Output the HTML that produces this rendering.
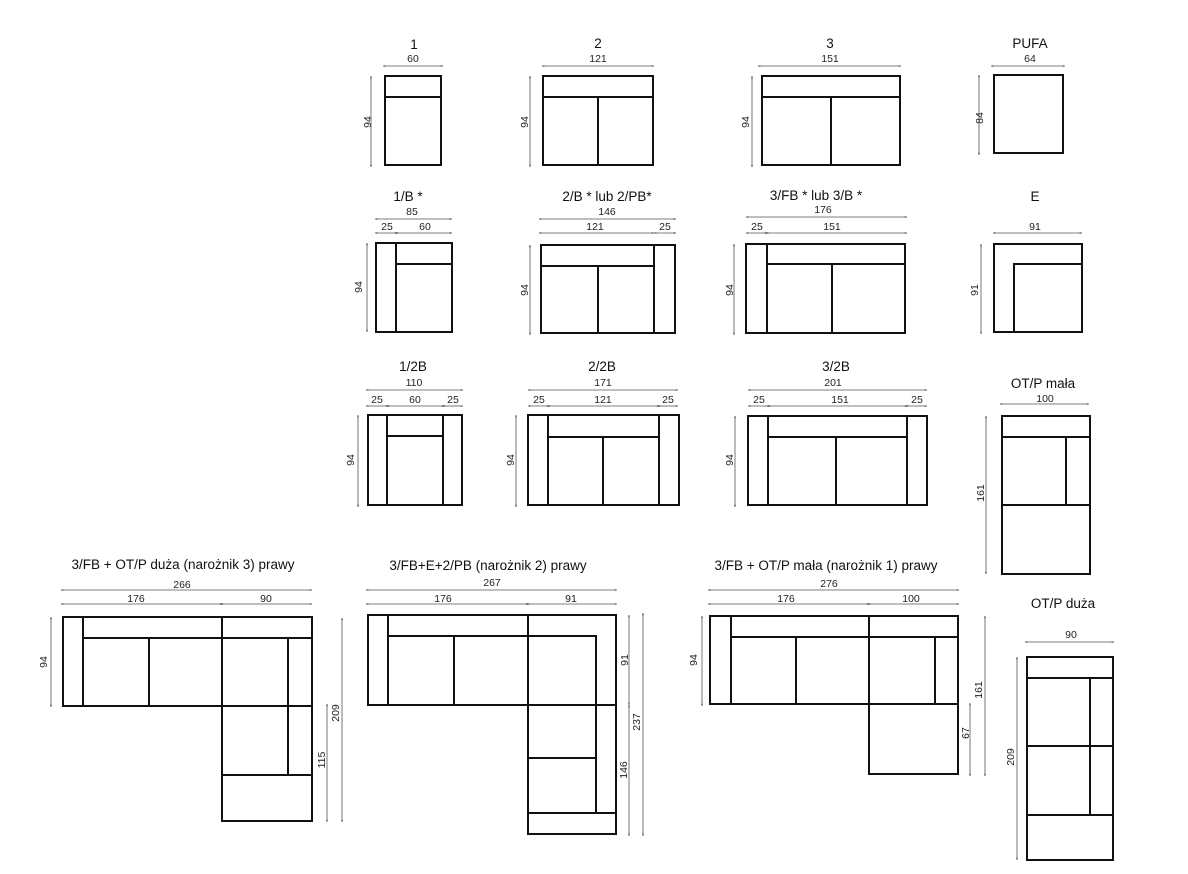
<!DOCTYPE html>
<html><head><meta charset="utf-8"><style>
html,body{margin:0;padding:0;background:#fff;}
svg{display:block}
.o{stroke:#111;stroke-width:2;fill:none}
.d{stroke:#555;stroke-width:0.8;fill:none;marker-start:url(#a);marker-end:url(#a)}
.t{font-family:"Liberation Sans",sans-serif;font-size:13.5px;fill:#111;text-anchor:middle}
.n{font-family:"Liberation Sans",sans-serif;font-size:10.5px;fill:#222;text-anchor:middle}
</style></head><body>
<svg width="1188" height="874" viewBox="0 0 1188 874" xmlns="http://www.w3.org/2000/svg">
<defs><marker id="a" viewBox="0 0 10 10" refX="5" refY="5" markerWidth="4" markerHeight="4" orient="auto-start-reverse"><path d="M0,5 L10,2 L10,8 Z" fill="#444"/></marker></defs>

<!-- Row 1 -->
<text class="t" x="414" y="49">1</text><text class="n" x="413" y="62">60</text>
<line class="d" x1="385" y1="66" x2="441" y2="66"/>
<rect class="o" x="385" y="76" width="56" height="89"/><line class="o" x1="385" y1="97" x2="441" y2="97"/>
<line class="d" x1="371" y1="78" x2="371" y2="165"/><text class="n" transform="translate(371,122) rotate(-90)">94</text>

<text class="t" x="598" y="48">2</text><text class="n" x="598" y="62">121</text>
<line class="d" x1="544" y1="66" x2="652" y2="66"/>
<rect class="o" x="543" y="76" width="110" height="89"/><line class="o" x1="543" y1="97" x2="653" y2="97"/><line class="o" x1="598" y1="97" x2="598" y2="165"/>
<line class="d" x1="530" y1="78" x2="530" y2="165"/><text class="n" transform="translate(528,122) rotate(-90)">94</text>

<text class="t" x="830" y="48">3</text><text class="n" x="830" y="62">151</text>
<line class="d" x1="760" y1="66" x2="899" y2="66"/>
<rect class="o" x="762" y="76" width="138" height="89"/><line class="o" x1="762" y1="97" x2="900" y2="97"/><line class="o" x1="831" y1="97" x2="831" y2="165"/>
<line class="d" x1="752" y1="78" x2="752" y2="165"/><text class="n" transform="translate(749,122) rotate(-90)">94</text>

<text class="t" x="1030" y="48">PUFA</text><text class="n" x="1030" y="62">64</text>
<line class="d" x1="993" y1="66" x2="1063" y2="66"/>
<rect class="o" x="994" y="75" width="69" height="78"/>
<line class="d" x1="979" y1="77" x2="979" y2="153"/><text class="n" transform="translate(983,118) rotate(-90)">84</text>

<!-- Row 2 -->
<text class="t" x="408" y="201">1/B *</text><text class="n" x="412" y="215">85</text>
<line class="d" x1="377" y1="219" x2="450" y2="219"/>
<text class="n" x="387" y="230">25</text><text class="n" x="425" y="230">60</text>
<line class="d" x1="377" y1="233" x2="395" y2="233"/><line class="d" x1="398" y1="233" x2="450" y2="233"/>
<rect class="o" x="376" y="243" width="76" height="89"/><line class="o" x1="396" y1="243" x2="396" y2="332"/><line class="o" x1="396" y1="264" x2="452" y2="264"/>
<line class="d" x1="367" y1="245" x2="367" y2="330"/><text class="n" transform="translate(362,287) rotate(-90)">94</text>

<text class="t" x="607" y="201">2/B * lub 2/PB*</text><text class="n" x="607" y="215">146</text>
<line class="d" x1="541" y1="219" x2="674" y2="219"/>
<text class="n" x="595" y="230">121</text><text class="n" x="665" y="230">25</text>
<line class="d" x1="541" y1="233" x2="652" y2="233"/><line class="d" x1="656" y1="233" x2="674" y2="233"/>
<rect class="o" x="541" y="245" width="134" height="88"/><line class="o" x1="654" y1="245" x2="654" y2="333"/><line class="o" x1="541" y1="266" x2="654" y2="266"/><line class="o" x1="598" y1="266" x2="598" y2="333"/>
<line class="d" x1="530" y1="247" x2="530" y2="333"/><text class="n" transform="translate(528,290) rotate(-90)">94</text>

<text class="t" x="816" y="200">3/FB * lub 3/B *</text><text class="n" x="823" y="213">176</text>
<line class="d" x1="748" y1="217" x2="905" y2="217"/>
<text class="n" x="757" y="230">25</text><text class="n" x="832" y="230">151</text>
<line class="d" x1="748" y1="233" x2="765" y2="233"/><line class="d" x1="768" y1="233" x2="905" y2="233"/>
<rect class="o" x="746" y="244" width="159" height="89"/><line class="o" x1="767" y1="244" x2="767" y2="333"/><line class="o" x1="767" y1="264" x2="905" y2="264"/><line class="o" x1="832" y1="264" x2="832" y2="333"/>
<line class="d" x1="734" y1="246" x2="734" y2="333"/><text class="n" transform="translate(733,290) rotate(-90)">94</text>

<text class="t" x="1035" y="201">E</text><text class="n" x="1035" y="230">91</text>
<line class="d" x1="995" y1="233" x2="1080" y2="233"/>
<rect class="o" x="994" y="244" width="88" height="88"/><polyline class="o" points="1014,332 1014,264 1082,264"/>
<line class="d" x1="981" y1="246" x2="981" y2="332"/><text class="n" transform="translate(978,290) rotate(-90)">91</text>

<!-- Row 3 -->
<text class="t" x="413" y="371">1/2B</text><text class="n" x="414" y="386">110</text>
<line class="d" x1="368" y1="390" x2="461" y2="390"/>
<text class="n" x="377" y="403">25</text><text class="n" x="415" y="403">60</text><text class="n" x="453" y="403">25</text>
<line class="d" x1="368" y1="406" x2="386" y2="406"/><line class="d" x1="389" y1="406" x2="442" y2="406"/><line class="d" x1="445" y1="406" x2="461" y2="406"/>
<rect class="o" x="368" y="415" width="94" height="90"/><line class="o" x1="387" y1="415" x2="387" y2="505"/><line class="o" x1="443" y1="415" x2="443" y2="505"/><line class="o" x1="387" y1="436" x2="443" y2="436"/>
<line class="d" x1="358" y1="417" x2="358" y2="505"/><text class="n" transform="translate(354,460) rotate(-90)">94</text>

<text class="t" x="602" y="371">2/2B</text><text class="n" x="603" y="386">171</text>
<line class="d" x1="530" y1="390" x2="676" y2="390"/>
<text class="n" x="539" y="403">25</text><text class="n" x="603" y="403">121</text><text class="n" x="668" y="403">25</text>
<line class="d" x1="530" y1="406" x2="547" y2="406"/><line class="d" x1="550" y1="406" x2="657" y2="406"/><line class="d" x1="660" y1="406" x2="676" y2="406"/>
<rect class="o" x="528" y="415" width="151" height="90"/><line class="o" x1="548" y1="415" x2="548" y2="505"/><line class="o" x1="659" y1="415" x2="659" y2="505"/><line class="o" x1="548" y1="437" x2="659" y2="437"/><line class="o" x1="603" y1="437" x2="603" y2="505"/>
<line class="d" x1="516" y1="417" x2="516" y2="505"/><text class="n" transform="translate(514,460) rotate(-90)">94</text>

<text class="t" x="836" y="371">3/2B</text><text class="n" x="833" y="386">201</text>
<line class="d" x1="750" y1="390" x2="925" y2="390"/>
<text class="n" x="759" y="403">25</text><text class="n" x="840" y="403">151</text><text class="n" x="917" y="403">25</text>
<line class="d" x1="750" y1="406" x2="767" y2="406"/><line class="d" x1="770" y1="406" x2="905" y2="406"/><line class="d" x1="908" y1="406" x2="925" y2="406"/>
<rect class="o" x="748" y="416" width="179" height="89"/><line class="o" x1="768" y1="416" x2="768" y2="505"/><line class="o" x1="907" y1="416" x2="907" y2="505"/><line class="o" x1="768" y1="437" x2="907" y2="437"/><line class="o" x1="836" y1="437" x2="836" y2="505"/>
<line class="d" x1="735" y1="418" x2="735" y2="505"/><text class="n" transform="translate(733,460) rotate(-90)">94</text>

<text class="t" x="1043" y="388">OT/P mała</text><text class="n" x="1045" y="402">100</text>
<line class="d" x1="1002" y1="404" x2="1087" y2="404"/>
<rect class="o" x="1002" y="416" width="88" height="158"/><line class="o" x1="1002" y1="437" x2="1090" y2="437"/><line class="o" x1="1066" y1="437" x2="1066" y2="505"/><line class="o" x1="1002" y1="505" x2="1090" y2="505"/>
<line class="d" x1="986" y1="418" x2="986" y2="572"/><text class="n" transform="translate(984,493) rotate(-90)">161</text>

<!-- Corner 3 -->
<text class="t" x="183" y="569">3/FB + OT/P duża (narożnik 3) prawy</text>
<text class="n" x="182" y="588">266</text>
<line class="d" x1="63" y1="590" x2="310" y2="590"/>
<text class="n" x="136" y="602">176</text><text class="n" x="266" y="602">90</text>
<line class="d" x1="63" y1="604" x2="220" y2="604"/><line class="d" x1="223" y1="604" x2="310" y2="604"/>
<polygon class="o" points="63,617 312,617 312,821 222,821 222,706 63,706"/>
<line class="o" x1="83" y1="617" x2="83" y2="706"/><line class="o" x1="83" y1="638" x2="312" y2="638"/><line class="o" x1="149" y1="638" x2="149" y2="706"/>
<line class="o" x1="222" y1="617" x2="222" y2="706"/><line class="o" x1="288" y1="638" x2="288" y2="775"/>
<line class="o" x1="222" y1="706" x2="312" y2="706"/><line class="o" x1="222" y1="775" x2="312" y2="775"/>
<line class="d" x1="51" y1="619" x2="51" y2="705"/><text class="n" transform="translate(47,662) rotate(-90)">94</text>
<line class="d" x1="342" y1="620" x2="342" y2="820"/><text class="n" transform="translate(339,713) rotate(-90)">209</text>
<line class="d" x1="327" y1="706" x2="327" y2="820"/><text class="n" transform="translate(325,760) rotate(-90)">115</text>

<!-- Corner 2 -->
<text class="t" x="488" y="570">3/FB+E+2/PB (narożnik 2) prawy</text>
<text class="n" x="492" y="586">267</text>
<line class="d" x1="368" y1="590" x2="615" y2="590"/>
<text class="n" x="443" y="602">176</text><text class="n" x="571" y="602">91</text>
<line class="d" x1="368" y1="604" x2="526" y2="604"/><line class="d" x1="529" y1="604" x2="615" y2="604"/>
<polygon class="o" points="368,615 616,615 616,834 528,834 528,705 368,705"/>
<line class="o" x1="388" y1="615" x2="388" y2="705"/><line class="o" x1="388" y1="636" x2="528" y2="636"/><line class="o" x1="454" y1="636" x2="454" y2="705"/>
<line class="o" x1="528" y1="615" x2="528" y2="705"/><polyline class="o" points="528,636 596,636 596,813"/>
<line class="o" x1="528" y1="705" x2="616" y2="705"/><line class="o" x1="528" y1="758" x2="596" y2="758"/><line class="o" x1="528" y1="813" x2="616" y2="813"/>
<line class="d" x1="629" y1="617" x2="629" y2="703"/><text class="n" transform="translate(628,660) rotate(-90)">91</text>
<line class="d" x1="629" y1="707" x2="629" y2="834"/><text class="n" transform="translate(627,770) rotate(-90)">146</text>
<line class="d" x1="643" y1="615" x2="643" y2="834"/><text class="n" transform="translate(640,722) rotate(-90)">237</text>

<!-- Corner 1 -->
<text class="t" x="826" y="570">3/FB + OT/P mała (narożnik 1) prawy</text>
<text class="n" x="829" y="587">276</text>
<line class="d" x1="710" y1="590" x2="957" y2="590"/>
<text class="n" x="786" y="602">176</text><text class="n" x="911" y="602">100</text>
<line class="d" x1="710" y1="604" x2="867" y2="604"/><line class="d" x1="870" y1="604" x2="957" y2="604"/>
<polygon class="o" points="710,616 958,616 958,774 869,774 869,704 710,704"/>
<line class="o" x1="731" y1="616" x2="731" y2="704"/><line class="o" x1="731" y1="637" x2="958" y2="637"/><line class="o" x1="796" y1="637" x2="796" y2="704"/>
<line class="o" x1="869" y1="616" x2="869" y2="704"/><line class="o" x1="935" y1="637" x2="935" y2="704"/><line class="o" x1="869" y1="704" x2="958" y2="704"/>
<line class="d" x1="702" y1="618" x2="702" y2="704"/><text class="n" transform="translate(697,660) rotate(-90)">94</text>
<line class="d" x1="970" y1="705" x2="970" y2="774"/><text class="n" transform="translate(969,733) rotate(-90)">67</text>
<line class="d" x1="985" y1="618" x2="985" y2="774"/><text class="n" transform="translate(982,690) rotate(-90)">161</text>

<!-- OT/P duża -->
<text class="t" x="1063" y="608">OT/P duża</text><text class="n" x="1071" y="638">90</text>
<line class="d" x1="1027" y1="642" x2="1112" y2="642"/>
<rect class="o" x="1027" y="657" width="86" height="203"/>
<line class="o" x1="1027" y1="678" x2="1113" y2="678"/><line class="o" x1="1090" y1="678" x2="1090" y2="815"/>
<line class="o" x1="1027" y1="746" x2="1113" y2="746"/><line class="o" x1="1027" y1="815" x2="1113" y2="815"/>
<line class="d" x1="1017" y1="659" x2="1017" y2="858"/><text class="n" transform="translate(1014,757) rotate(-90)">209</text>
</svg>
</body></html>
